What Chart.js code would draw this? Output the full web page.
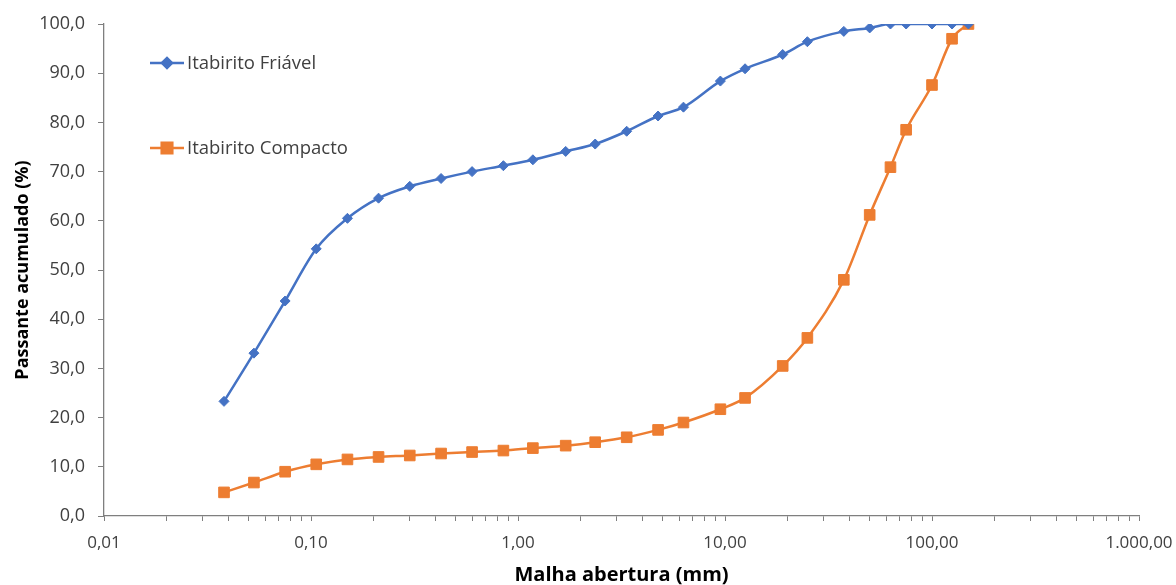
<!DOCTYPE html>
<html>
<head>
<meta charset="utf-8">
<script src="https://cdn.jsdelivr.net/npm/chart.js@4/dist/chart.umd.min.js"></script>
<style>
  html, body { margin: 0; padding: 0; background: #fff; }
  #wrap { width: 1176px; height: 585px; }
</style>
</head>
<body>
<div id="wrap"><canvas id="c"></canvas></div>
<script>
// Abertura das peneiras (mm) e passante acumulado (%) de cada amostra
const aberturas = [0.038, 0.053, 0.075, 0.106, 0.150, 0.212, 0.300, 0.425, 0.600, 0.850,
  1.18, 1.70, 2.36, 3.35, 4.75, 6.3, 9.5, 12.5, 19.0, 25.0, 37.5, 50, 63, 75, 100, 125, 150];
const friavel = [23.3, 33.1, 43.7, 54.3, 60.5, 64.6, 67.0, 68.6, 70.0, 71.2,
  72.4, 74.1, 75.6, 78.2, 81.3, 83.1, 88.4, 90.9, 93.8, 96.4, 98.5, 99.2, 100, 100, 100, 100, 100];
const compacto = [4.8, 6.8, 9.0, 10.5, 11.5, 12.0, 12.3, 12.7, 13.0, 13.3,
  13.8, 14.3, 15.0, 16.0, 17.5, 19.0, 21.7, 24.0, 30.5, 36.2, 48.0, 61.2, 70.9, 78.5, 87.6, 97.0, 100];
const decadas = [0.01, 0.1, 1, 10, 100, 1000];
const rotulosX = ["0,01", "0,10", "1,00", "10,00", "100,00", "1.000,00"];

const AZUL = "#4472C4", LARANJA = "#ED7D31", TEXTO = "#404040", EIXO = "#7f7f7f";
const FONTE = "'Open Sans', sans-serif";

const pontos = ys => aberturas.map((x, i) => ({ x, y: ys[i] }));

// Legenda dentro da área do gráfico, como no Excel
const legendaInterna = {
  id: "legendaInterna",
  afterDatasetsDraw(chart) {
    const ctx = chart.ctx;
    const posY = [63, 148];
    chart.data.datasets.forEach((ds, i) => {
      const y = posY[i];
      ctx.save();
      ctx.strokeStyle = ds.borderColor;
      ctx.lineWidth = ds.borderWidth;
      ctx.beginPath(); ctx.moveTo(150, y); ctx.lineTo(184, y); ctx.stroke();
      ctx.fillStyle = ds.backgroundColor;
      ctx.strokeStyle = ds.backgroundColor;
      Chart.helpers.drawPoint(ctx, { pointStyle: ds.pointStyle, radius: ds.pointRadius, borderWidth: 1 }, 167, y);
      ctx.fillStyle = TEXTO;
      ctx.font = "18.5px " + FONTE;
      ctx.textBaseline = "middle";
      ctx.fillText(ds.label, 187, y + 1);
      ctx.restore();
    });
  }
};

new Chart(document.getElementById("c"), {
  type: "line",
  data: {
    datasets: [
      {
        label: "Itabirito Friável", data: pontos(friavel),
        borderColor: AZUL, backgroundColor: AZUL, borderWidth: 2.5,
        pointStyle: "rectRot", pointRadius: 5, pointBorderWidth: 1,
        cubicInterpolationMode: "monotone",
      },
      {
        label: "Itabirito Compacto", data: pontos(compacto),
        borderColor: LARANJA, backgroundColor: LARANJA, borderWidth: 2.5,
        pointStyle: "rect", pointRadius: 7.5, pointBorderWidth: 1,
        cubicInterpolationMode: "monotone",
      },
    ],
  },
  options: {
    responsive: true, maintainAspectRatio: false, animation: false,
    layout: { padding: { top: 24, right: 37, bottom: 0, left: 0 } },
    plugins: { legend: { display: false }, tooltip: { enabled: false } },
    scales: {
      x: {
        type: "logarithmic", min: 0.01, max: 1000,
        afterBuildTicks: axis => {
          const t = [];
          decadas.forEach((d, k) => {
            if (k === decadas.length - 1) { t.push({ value: d }); return; }
            for (let m = 1; m <= 9; m++) t.push({ value: d * m });
          });
          axis.ticks = t;
        },
        afterFit: axis => { axis.height = 69; axis.paddingLeft = 0; axis.paddingRight = 0; },
        grid: { drawOnChartArea: false, drawTicks: true, tickLength: 5, color: EIXO },
        border: { display: true, color: EIXO, width: 1.3 },
        ticks: {
          autoSkip: false, maxRotation: 0, color: TEXTO, padding: 12,
          font: { family: FONTE, size: 17 },
          callback: function (v) {
            const i = decadas.findIndex(d => Math.abs(d - v) < d * 1e-6);
            return i >= 0 ? rotulosX[i] : "";
          },
        },
        title: {
          display: true, text: "Malha abertura (mm)", color: "#000",
          font: { family: FONTE, size: 20, weight: "bold", lineHeight: 1 }, padding: 0,
        },
      },
      y: {
        min: 0, max: 100,
        afterFit: axis => { axis.width = 104; axis.paddingTop = 0; axis.paddingBottom = 0; },
        grid: { drawOnChartArea: false, drawTicks: true, tickLength: 6, color: EIXO },
        border: { display: true, color: EIXO, width: 1.3 },
        ticks: {
          stepSize: 10, color: TEXTO, padding: 13,
          font: { family: FONTE, size: 18 },
          callback: v => v.toFixed(1).replace(".", ","),
        },
        title: {
          display: true, text: "Passante acumulado (%)", color: "#000",
          font: { family: FONTE, size: 18, weight: "bold", lineHeight: 1 }, padding: { top: 14, bottom: 0 },
        },
      },
    },
  },
  plugins: [legendaInterna],
});
</script>
</body>
</html>
